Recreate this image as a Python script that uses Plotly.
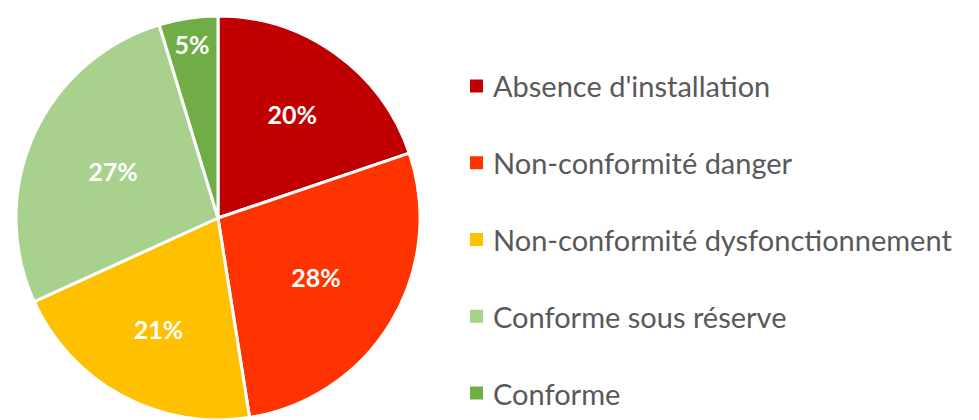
import plotly.graph_objects as go

categories = ["Absence d'installation", "Non-conformité danger",
              "Non-conformité dysfonctionnement", "Conforme sous réserve", "Conforme"]
values = [19.8, 27.7, 20.7, 27.1, 4.7]
colors = ["#C00000", "#FF3300", "#FFC000", "#A9D18E", "#70AD47"]

W, H = 979, 420
cx, cy, r = 218, 218, 202  # pie centre / radius in pixels (from top)

fig = go.Figure(go.Pie(
    labels=categories, values=values, sort=False, direction="clockwise", rotation=0,
    marker=dict(colors=colors, line=dict(color="white", width=3)),
    textinfo="percent", texttemplate="%{percent:.0%}", textposition="inside",
    insidetextorientation="horizontal",
    textfont=dict(family="Lato", size=25, color="white", weight="bold"),
    domain=dict(x=[(cx - r) / W, (cx + r) / W], y=[(H - cy - r) / H, (H - cy + r) / H]),
    showlegend=False, hoverinfo="label+percent",
))

# legend drawn beside the pie
leg_x_sq, leg_sq, leg_x_txt, leg_y0, leg_dy = 470, 13, 491, 86, 76.75
shapes, annots = [], []
for i, (cat, col) in enumerate(zip(categories, colors)):
    yc = leg_y0 + i * leg_dy
    shapes.append(dict(type="rect", xref="paper", yref="paper",
                       x0=leg_x_sq / W, x1=(leg_x_sq + leg_sq) / W,
                       y0=1 - (yc + leg_sq / 2) / H, y1=1 - (yc - leg_sq / 2) / H,
                       fillcolor=col, line=dict(width=0)))
    annots.append(dict(text=cat, xref="paper", yref="paper", x=leg_x_txt / W,
                       y=1 - yc / H, xanchor="left", yanchor="middle", showarrow=False,
                       font=dict(family="Lato", size=29, color="#595959")))

fig.update_layout(width=W, height=H, margin=dict(l=0, r=0, t=0, b=0),
                  paper_bgcolor="white", plot_bgcolor="white",
                  shapes=shapes, annotations=annots)
fig.write_html("out.html", config={"displayModeBar": False},
               post_script="document.body.style.margin='0';")
